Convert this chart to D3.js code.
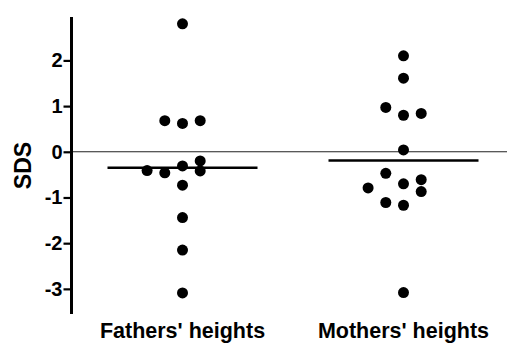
<!DOCTYPE html>
<html lang="en">
<head>
  <meta charset="UTF-8">
  <title>SDS of parents' heights</title>
  <script src="https://d3js.org/d3.v7.min.js"></script>
  <style>
    body { margin: 0; background: #fff; font-family: Arial, "Liberation Sans", sans-serif; }
    .lbl { font-weight: bold; fill: #000; }
  </style>
</head>
<body>
  <svg width="507" height="343"></svg>
  <script>
    // groups and their points (value = SDS, lane = column in the scatter)
    const groups = ["Fathers' heights", "Mothers' heights"];
    const fathersSDS  = [2.80, 0.68, 0.62, 0.68, -0.20, -0.41, -0.46, -0.31, -0.42, -0.73, -1.44, -2.15, -3.09];
    const fathersLane = [0, -1, 0, 1, 1, -2, -1, 0, 1, 0, 0, 0, 0];
    const mothersSDS  = [2.10, 1.61, 0.97, 0.80, 0.84, 0.04, -0.47, -0.70, -0.61, -0.87, -0.79, -1.11, -1.17, -3.08];
    const mothersLane = [0, 0, -1, 0, 1, 0, -1, 0, 1, 1, -2, -1, 0, 0];
    const means = [-0.35, -0.19];
    const yTicks = [-3, -2, -1, 0, 1, 2];

    const points = [
      ...fathersSDS.map((v, i) => ({ g: groups[0], v, lane: fathersLane[i] })),
      ...mothersSDS.map((v, i) => ({ g: groups[1], v, lane: mothersLane[i] }))
    ];

    const svg = d3.select("svg");
    const axisX = 71.5;

    const y = d3.scaleLinear().domain([-3.55, 2.95]).range([314, 17]);
    const x = d3.scaleBand().domain(groups).range([72, 514]);
    const lane = d3.scaleLinear().domain([0, 1]).range([0, 17.7]);
    const cx = g => x(g) + x.bandwidth() / 2;

    // zero reference line
    svg.append("line")
      .attr("x1", axisX).attr("x2", 507)
      .attr("y1", y(0)).attr("y2", y(0))
      .attr("stroke", "#222").attr("stroke-width", 1.1);

    // y axis
    const ax = svg.append("g")
      .attr("transform", `translate(${axisX},0)`)
      .call(d3.axisLeft(y).tickValues(yTicks).tickSize(8).tickPadding(1).tickFormat(d => String(d)));
    ax.select(".domain").attr("stroke-width", 3).attr("d", `M0,${y.range()[0]}V${y.range()[1]}`);
    ax.selectAll(".tick line").attr("stroke-width", 2.2);
    ax.selectAll(".tick text")
      .attr("fill", "#000")
      .style("font-family", "Arial, 'Liberation Sans', sans-serif")
      .style("font-size", "20px")
      .style("font-weight", "bold");

    svg.append("text").attr("class", "lbl")
      .attr("transform", `translate(31,${(y.range()[0] + y.range()[1]) / 2}) rotate(-90)`)
      .attr("text-anchor", "middle")
      .style("font-size", "23px")
      .text("SDS");

    // mean lines
    svg.selectAll(".mean").data(groups).enter().append("line")
      .attr("x1", g => cx(g) - 75).attr("x2", g => cx(g) + 75)
      .attr("y1", (g, i) => y(means[i])).attr("y2", (g, i) => y(means[i]))
      .attr("stroke", "#000").attr("stroke-width", 2.5);

    // points
    svg.selectAll(".pt").data(points).enter().append("circle")
      .attr("cx", d => cx(d.g) + lane(d.lane))
      .attr("cy", d => y(d.v))
      .attr("r", 5.5)
      .attr("fill", "#000");

    // category labels
    svg.selectAll(".cat").data(groups).enter().append("text")
      .attr("class", "lbl")
      .attr("x", g => cx(g)).attr("y", 337.5)
      .attr("text-anchor", "middle")
      .style("font-size", "21.5px")
      .text(g => g);
  </script>
</body>
</html>
